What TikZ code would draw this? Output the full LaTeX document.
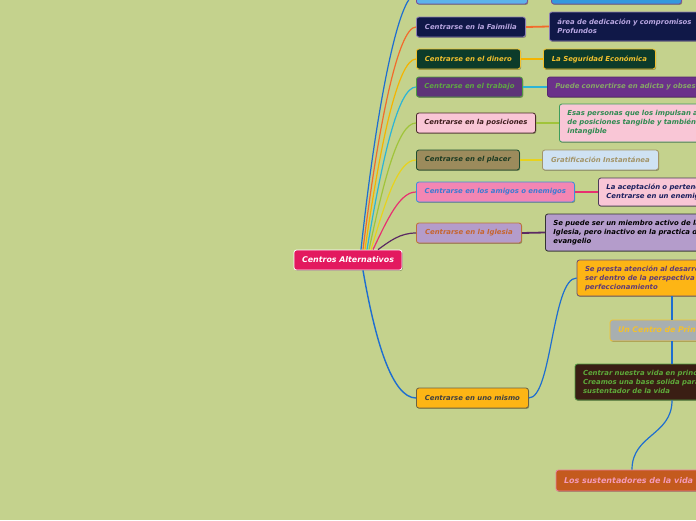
\documentclass[tikz,border=0pt]{standalone}
\usepackage{fontspec}
\newfontfamily\mmf{DejaVu Sans}
\usetikzlibrary{shadows,calc}
\definecolor{bg}{HTML}{C4D28D}
\definecolor{cCen}{HTML}{E3195F}
\definecolor{cTopA}{HTML}{5CB3EA}
\definecolor{cTopB}{HTML}{3399DD}
\definecolor{cTopBd}{HTML}{7A4C9C}
\definecolor{cNavy}{HTML}{101848}
\definecolor{cNavyBd}{HTML}{8C7EB4}
\definecolor{cNavyTx}{HTML}{B9A7E2}
\definecolor{cDGreen}{HTML}{0C3B2A}
\definecolor{cGold}{HTML}{F2C12E}
\definecolor{cPurple}{HTML}{5E3478}
\definecolor{cPurple2}{HTML}{6B318A}
\definecolor{cGreenBd}{HTML}{4E9A40}
\definecolor{cGreenTx}{HTML}{5FA843}
\definecolor{cTrabTx2}{HTML}{86A866}
\definecolor{cPink}{HTML}{F9C6D6}
\definecolor{cBrownBd}{HTML}{4A2A2A}
\definecolor{cBrownTx}{HTML}{3B1B1B}
\definecolor{cPosBd}{HTML}{3E9C5E}
\definecolor{cPosTx}{HTML}{2E8A50}
\definecolor{cOlive}{HTML}{9C8B5C}
\definecolor{cPlacBd}{HTML}{1E4D30}
\definecolor{cPlacTx}{HTML}{1C3A22}
\definecolor{cLBlue}{HTML}{CFE2F3}
\definecolor{cKhaki}{HTML}{A39468}
\definecolor{cAmiF}{HTML}{F386B3}
\definecolor{cAmiBd}{HTML}{3D8EDC}
\definecolor{cAmiTx}{HTML}{3B7BD3}
\definecolor{cAmiCBd}{HTML}{4B3B58}
\definecolor{cAmiCTx}{HTML}{1B1F5E}
\definecolor{cLav}{HTML}{B49CCB}
\definecolor{cIglBd}{HTML}{C0703A}
\definecolor{cIglTx}{HTML}{C6652E}
\definecolor{cAmber}{HTML}{FDB515}
\definecolor{cUnoBd}{HTML}{6B6244}
\definecolor{cUnoTx}{HTML}{404040}
\definecolor{cSepBd}{HTML}{6B4E72}
\definecolor{cSepTx}{HTML}{5E3A78}
\definecolor{cGray}{HTML}{A8AFB0}
\definecolor{cDBrown}{HTML}{3A1E14}
\definecolor{cCenTx}{HTML}{5EAA3A}
\definecolor{cRust}{HTML}{C45A1E}
\definecolor{cSusBd}{HTML}{E97C9C}
\definecolor{cSusTx}{HTML}{F49AB8}
\definecolor{lBlue}{HTML}{1E6ED0}
\definecolor{lOrange}{HTML}{F26B2B}
\definecolor{lYellow}{HTML}{F4B400}
\definecolor{lCyan}{HTML}{2BB4D6}
\definecolor{lGreen}{HTML}{A0C43A}
\definecolor{lYelTwo}{HTML}{E8D21C}
\definecolor{lPink}{HTML}{E83070}
\definecolor{lPurp}{HTML}{5B2A63}
\begin{document}
\begin{tikzpicture}[x=1pt,y=-1pt,
  box/.style={draw, line width=0.8pt, rounded corners=2.5pt,
    font=\mmf\bfseries\itshape\fontsize{6.9}{9}\selectfont,
    inner xsep=8pt, inner ysep=2pt,
    drop shadow={shadow xshift=0.8pt,shadow yshift=-0.9pt,opacity=0.3,fill=black}},
  lone/.style={box, minimum height=20pt, anchor=west},
  ltwo/.style={box, anchor=west, align=left},
  bigfont/.style={font=\mmf\bfseries\itshape\fontsize{7.8}{9.5}\selectfont},
  conn/.style={line width=1.2pt},
  conntwo/.style={line width=1.8pt}]
\useasboundingbox (0,0) rectangle (696,520);
\clip (0,0) rectangle (696,520);
\fill[bg] (0,0) rectangle (696,520);

% central
\node[box, fill=cCen, draw=white, text=white, minimum width=108pt, minimum height=20pt,
  font=\mmf\bfseries\itshape\fontsize{7.9}{9}\selectfont] (c) at (348,260) {Centros Alternativos};

% level 1 and 2
\node[lone, fill=cTopA, draw=cTopBd, minimum width=111pt] (ta) at (416,-6) {};
\node[lone, fill=cTopB, draw=cTopBd, minimum width=130pt] (tb) at (551,-6) {};

\node[lone, fill=cNavy, draw=cNavyBd, text=cNavyTx, minimum width=109pt] (fam) at (416,27) {Centrarse en la Faimilia};
\node[ltwo, fill=cNavy, draw=cNavyBd, text=cNavyTx, text width=170pt, minimum height=29pt] (famc) at (549,26.5) {área de dedicación y compromisos\\Profundos};

\node[lone, fill=cDGreen, draw=cGold, text=cGold, minimum width=104pt] (din) at (416,59) {Centrarse en el dinero};
\node[lone, fill=cDGreen, draw=cGold, text=cGold, minimum width=112pt] (dinc) at (543,59) {La Seguridad Económica};

\node[lone, fill=cPurple, draw=cGreenBd, text=cGreenTx, minimum width=106pt] (trab) at (416,87) {Centrarse en el trabajo};
\node[ltwo, fill=cPurple2, draw=cPurple2!80!black, text=cTrabTx2, text width=230pt, minimum height=20pt] (trabc) at (547,87) {Puede convertirse en adicta y obsesiva};

\node[lone, fill=cPink, draw=cBrownBd, text=cBrownTx, minimum width=119pt] (pos) at (416,123) {Centrarse en la posiciones};
\node[ltwo, fill=cPink, draw=cPosBd, text=cPosTx, text width=180pt, minimum height=38pt] (posc) at (559,123) {Esas personas que los impulsan a\\de posiciones tangible y también\\intangible};

\node[lone, fill=cOlive, draw=cPlacBd, text=cPlacTx, minimum width=103pt] (plac) at (416,160) {Centrarse en el placer};
\node[lone, fill=cLBlue, draw=cKhaki, text=cKhaki, minimum width=116pt] (placc) at (542,160) {Gratificación Instantánea};

\node[lone, fill=cAmiF, draw=cAmiBd, text=cAmiTx, minimum width=158pt] (ami) at (416,192) {Centrarse en los amigos o enemigos};
\node[ltwo, fill=cPink, draw=cAmiCBd, text=cAmiCTx, text width=150pt, minimum height=28pt] (amic) at (598,192) {La aceptación o pertenencia\\Centrarse en un enemigo};

\node[lone, fill=cLav, draw=cIglBd, text=cIglTx, minimum width=105pt] (igl) at (416,233) {Centrarse en la Iglesia};
\node[ltwo, fill=cLav, draw=black!80, text=black, text width=200pt, minimum height=37pt] (iglc) at (545,232.5) {Se puede ser un miembro activo de la\\Iglesia, pero inactivo en la practica del\\evangelio};

\node[lone, fill=cAmber, draw=cUnoBd, text=cUnoTx, minimum width=112pt] (uno) at (416,398) {Centrarse en uno mismo};

\node[box, fill=cAmber, draw=cSepBd, text=cSepTx, align=left, text width=174pt, minimum height=36pt] (sep) at (672,278) {Se presta atención al desarrollo del\\ser dentro de la perspectiva de\\perfeccionamiento};
\node[box, bigfont, fill=cGray, draw=cGold, text=cGold, align=left, text width=108pt, minimum height=21pt] (unc) at (672,330.5) {Un Centro de Principios};
\node[box, fill=cDBrown, draw=cGreenBd, text=cCenTx, align=left, text width=178pt, minimum height=36pt] (cen) at (672,382) {Centrar nuestra vida en principios\\Creamos una base solida para\\sustentador de la vida};
\node[box, font=\mmf\bfseries\itshape\fontsize{8}{9.5}\selectfont, fill=cRust, draw=cSusBd, text=cSusTx, align=left, text width=136pt, minimum height=21pt] (sus) at (632,480.5) {Los sustentadores de la vida};

% start points
\coordinate (s1) at ($(c.north)+(13,0)$);
\coordinate (s2) at ($(c.north)+(15,0)$);
\coordinate (s3) at ($(c.north)+(17,0)$);
\coordinate (s4) at ($(c.north)+(19,0)$);
\coordinate (s5) at ($(c.north)+(21,0)$);
\coordinate (s6) at ($(c.north)+(23,0)$);
\coordinate (s7) at ($(c.north)+(25,0)$);
\coordinate (s8) at ($(c.north)+(30,0)$);
\coordinate (s9) at ($(c.south)+(15,0)$);

\draw[conn, lBlue] (s1) .. controls (376,111) and (398,-6) .. (ta.west);
\draw[conn, lOrange] (s2) .. controls (378,127) and (398,27) .. (fam.west);
\draw[conn, lYellow] (s3) .. controls (380,145) and (398,59) .. (din.west);
\draw[conn, lCyan] (s4) .. controls (382,160) and (398,87) .. (trab.west);
\draw[conn, lGreen] (s5) .. controls (384,180) and (398,123) .. (pos.west);
\draw[conn, lYelTwo] (s6) .. controls (386,200) and (398,160) .. (plac.west);
\draw[conn, lPink] (s7) .. controls (388,218) and (400,192) .. (ami.west);
\draw[conn, lPurp] (s8) .. controls (390,241) and (400,233) .. (igl.west);
\draw[conn, lBlue, line width=1.4pt] (s9) .. controls (375,340) and (392,398) .. (uno.west);

\draw[conntwo, lOrange] (fam.east) -- (famc.west);
\draw[conntwo, lYellow] (din.east) -- (dinc.west);
\draw[conntwo, lCyan] (trab.east) -- (trabc.west);
\draw[conntwo, lGreen] (pos.east) -- (posc.west);
\draw[conntwo, lYelTwo] (plac.east) -- (placc.west);
\draw[conntwo, lPink] (ami.east) -- (amic.west);
\draw[conntwo, lPurp] (igl.east) -- (iglc.west);

\draw[conn, lBlue] (uno.east) .. controls (552,398) and (552,278) .. (sep.west);
\draw[conn, lBlue] (sep.south) -- (unc.north);
\draw[conn, lBlue] (unc.south) -- (cen.north);
\draw[conn, lBlue] (cen.south) .. controls +(0,35) and +(0,-35) .. (sus.north);
\end{tikzpicture}
\end{document}
